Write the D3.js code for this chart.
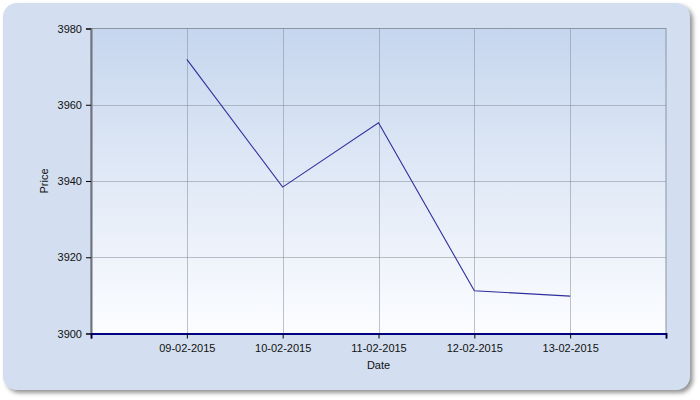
<!DOCTYPE html>
<html>
<head>
<meta charset="utf-8">
<script src="https://cdn.jsdelivr.net/npm/d3@7"></script>
<style>
  body { margin: 0; background: #fff; }
  text { font-family: "Liberation Sans", Arial, sans-serif; font-size: 11px; fill: #111; }
</style>
</head>
<body>
<div class="chartArea"></div>
<script>
const dates = ["09-02-2015", "10-02-2015", "11-02-2015", "12-02-2015", "13-02-2015"];
const prices = [3971.9, 3938.4, 3955.3, 3911.2, 3909.8];
const yTicks = [3900, 3920, 3940, 3960, 3980];
const xStart = "08-02-2015";
const xEnd = "14-02-2015";

const width = 700;
const height = 400;
const plotLeft = 91, plotRight = 666, plotTop = 28.5, plotBottom = 333.5;

const parse = d3.timeParse("%d-%m-%Y");
const fmt = d3.timeFormat("%d-%m-%Y");
const data = dates.map((d, i) => [parse(d), prices[i]]);

const xScale = d3.scaleTime()
    .domain([parse(xStart), parse(xEnd)])
    .range([plotLeft, plotRight]);

const yScale = d3.scaleLinear()
    .domain([yTicks[0], yTicks[yTicks.length - 1]])
    .range([plotBottom, plotTop]);

const svg = d3.select(".chartArea")
    .append("svg")
    .attr("width", width)
    .attr("height", height);

const defs = svg.append("defs");
const grad = defs.append("linearGradient")
    .attr("id", "plotBg")
    .attr("x1", 0).attr("y1", 0).attr("x2", 0).attr("y2", 1);
grad.append("stop").attr("offset", "0%").attr("stop-color", "#c6d6ee");
grad.append("stop").attr("offset", "100%").attr("stop-color", "#fcfdff");

const shadow = defs.append("filter")
    .attr("id", "shadow")
    .attr("x", "-5%").attr("y", "-5%").attr("width", "110%").attr("height", "110%");
shadow.append("feDropShadow")
    .attr("dx", 3).attr("dy", 3)
    .attr("stdDeviation", 2)
    .attr("flood-color", "#666")
    .attr("flood-opacity", 0.7);

// outer panel
svg.append("rect")
    .attr("x", 3).attr("y", 3)
    .attr("width", 687).attr("height", 387)
    .attr("rx", 14).attr("ry", 14)
    .attr("fill", "#d3dff0")
    .attr("filter", "url(#shadow)");

// plot background
svg.append("rect")
    .attr("x", plotLeft).attr("y", plotTop)
    .attr("width", plotRight - plotLeft).attr("height", plotBottom - plotTop)
    .attr("fill", "url(#plotBg)")
    .attr("stroke", "#8a95a6")
    .attr("stroke-width", 1);

const allDays = d3.timeDay.range(parse(xStart), d3.timeDay.offset(parse(xEnd), 1));

// grid
svg.append("g")
    .selectAll("line")
    .data(allDays.slice(1, -1))
    .enter()
    .append("line")
    .attr("x1", d => Math.round(xScale(d)) + 0.5)
    .attr("x2", d => Math.round(xScale(d)) + 0.5)
    .attr("y1", plotTop)
    .attr("y2", plotBottom)
    .attr("stroke", "#7f8796")
    .attr("stroke-opacity", 0.5);

svg.append("g")
    .selectAll("line")
    .data(yTicks.slice(1, -1))
    .enter()
    .append("line")
    .attr("x1", plotLeft)
    .attr("x2", plotRight)
    .attr("y1", d => Math.round(yScale(d)) + 0.5)
    .attr("y2", d => Math.round(yScale(d)) + 0.5)
    .attr("stroke", "#7f8796")
    .attr("stroke-opacity", 0.5);

// line
const line = d3.line()
    .x(d => xScale(d[0]))
    .y(d => yScale(d[1]));

svg.append("path")
    .datum(data)
    .attr("d", line)
    .attr("fill", "none")
    .attr("stroke", "#2e2e9c")
    .attr("stroke-width", 1.1);

// axes
const yAxis = d3.axisLeft(yScale)
    .tickValues(yTicks)
    .tickSize(5)
    .tickPadding(4)
    .tickFormat(d3.format("d"));
const gy = svg.append("g")
    .attr("transform", `translate(${plotLeft},0)`)
    .call(yAxis);
gy.select(".domain").attr("stroke", "#6e737c").attr("stroke-width", 2);
gy.selectAll(".tick line").attr("stroke", "#000");
gy.selectAll(".tick text").attr("font-size", 11).attr("font-family", "Liberation Sans, Arial, sans-serif").attr("fill", "#111");

const xAxis = d3.axisBottom(xScale)
    .tickValues(allDays)
    .tickSize(5)
    .tickPadding(6)
    .tickFormat(d => dates.includes(fmt(d)) ? fmt(d) : "");
const gx = svg.append("g")
    .attr("transform", `translate(0,${plotBottom})`)
    .call(xAxis);
gx.select(".domain").attr("stroke", "#000080").attr("stroke-width", 2);
gx.selectAll(".tick line").attr("stroke", "#000");
gx.selectAll(".tick text").attr("font-size", 11).attr("font-family", "Liberation Sans, Arial, sans-serif").attr("fill", "#111");

// axis titles
svg.append("text")
    .attr("x", (plotLeft + plotRight) / 2)
    .attr("y", 369)
    .attr("text-anchor", "middle")
    .text("Date");

svg.append("text")
    .attr("transform", `translate(48,${(plotTop + plotBottom) / 2}) rotate(-90)`)
    .attr("text-anchor", "middle")
    .text("Price");
</script>
</body>
</html>
